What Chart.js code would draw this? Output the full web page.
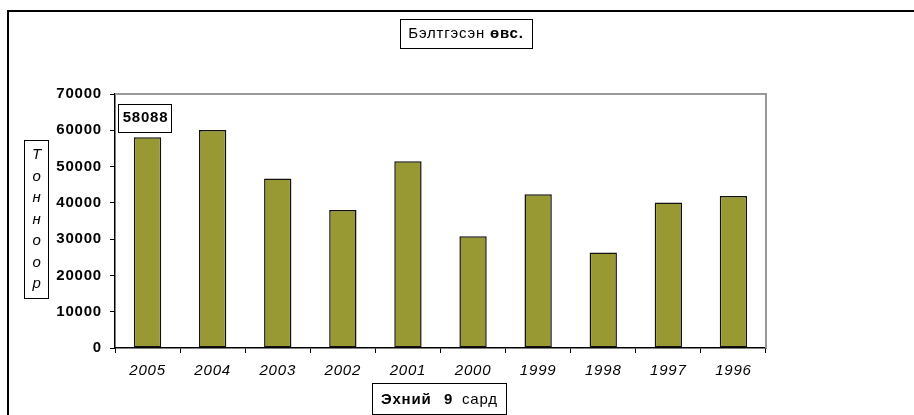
<!DOCTYPE html>
<html>
<head>
<meta charset="utf-8">
<script src="https://cdn.jsdelivr.net/npm/chart.js@4"></script>
<style>
  html, body { margin: 0; padding: 0; background: #fff; }
  #wrap { width: 914px; height: 415px; position: relative; }
</style>
</head>
<body>
<div id="wrap"><canvas id="graph01" width="914" height="415"></canvas></div>
<script>
// данные
const years = ['2005', '2004', '2003', '2002', '2001', '2000', '1999', '1998', '1997', '1996'];
const tonnes = [58088, 60100, 46700, 38000, 51500, 30800, 42400, 26300, 40100, 41900];
const yTicks = [0, 10000, 20000, 30000, 40000, 50000, 60000, 70000];
const titleText = 'Бэлтгэсэн ';
const titleBold = 'өвс.';
const yTitleChars = ['Т', 'о', 'н', 'н', 'о', 'о', 'р'];
const xTitleParts = ['Эхний', '9', 'сард'];

const FONT = '"Liberation Sans", Arial, sans-serif';

// рамки, заголовки, подпись значения
const boxes = {
    id: 'boxes',
    beforeDraw(chart) {
        const c = chart.ctx;
        c.save();
        c.fillStyle = '#fff';
        c.fillRect(0, 0, chart.width, chart.height);
        // внешняя рамка
        c.strokeStyle = '#000';
        c.lineWidth = 2;
        c.beginPath();
        c.moveTo(8, 415);
        c.lineTo(8, 11);
        c.lineTo(914, 11);
        c.stroke();
        c.restore();
        // шире шрифт, как в оригинале
        c.letterSpacing = '0.8px';
    },
    afterDraw(chart) {
        const c = chart.ctx;
        const a = chart.chartArea;
        c.save();
        c.letterSpacing = '0.8px';
        // серая рамка области построения
        c.strokeStyle = '#999';
        c.lineWidth = 2;
        c.beginPath();
        c.moveTo(a.left, a.top);
        c.lineTo(a.right, a.top);
        c.lineTo(a.right, a.bottom);
        c.stroke();

        c.lineWidth = 1;
        c.strokeStyle = '#000';
        c.fillStyle = '#000';
        c.textBaseline = 'middle';

        // заголовок
        c.strokeRect(400.5, 19.5, 132, 29);
        c.font = '15px ' + FONT;
        c.textAlign = 'left';
        const w1 = c.measureText(titleText).width;
        c.font = 'bold 15px ' + FONT;
        const w2 = c.measureText(titleBold).width;
        let x = 466 - (w1 + w2) / 2;
        c.font = '15px ' + FONT;
        c.fillText(titleText, x, 34);
        c.font = 'bold 15px ' + FONT;
        c.fillText(titleBold, x + w1, 34);

        // подпись оси Y
        c.strokeRect(24.5, 140.5, 24, 158);
        c.font = 'italic 15px ' + FONT;
        c.textAlign = 'center';
        yTitleChars.forEach((ch, i) => c.fillText(ch, 37, 155 + i * 21.5));

        // подпись оси X
        c.strokeRect(372.5, 383.5, 134, 31);
        c.textAlign = 'left';
        c.font = 'bold 15px ' + FONT;
        c.fillText(xTitleParts[0], 381, 400);
        c.fillText(xTitleParts[1], 444, 400);
        c.font = '15px ' + FONT;
        c.fillText(xTitleParts[2], 462, 400);

        // подпись значения первого столбца
        const bar = chart.getDatasetMeta(0).data[0];
        c.font = 'bold 15px ' + FONT;
        const label = String(tonnes[0]);
        c.fillStyle = '#fff';
        c.fillRect(118, bar.y - 33, 53, 28);
        c.strokeRect(118.5, Math.round(bar.y - 33) + 0.5, 53, 28);
        c.fillStyle = '#000';
        c.textAlign = 'center';
        c.fillText(label, 145.5, bar.y - 19);
        c.restore();
    }
};

const ctx = document.getElementById('graph01').getContext('2d');

const myChart = new Chart(ctx, {
    type: 'bar',
    data: {
        labels: years,
        datasets: [{
            label: 'Бэлтгэсэн өвс',
            data: tonnes,
            backgroundColor: '#999933',
            borderColor: '#111',
            borderWidth: 1.5,
            borderSkipped: false,
            categoryPercentage: 1,
            barPercentage: 0.42
        }]
    },
    options: {
        responsive: false,
        animation: false,
        events: [],
        layout: { padding: { left: 0, right: 148, top: 94, bottom: 0 } },
        plugins: {
            legend: { display: false },
            tooltip: { enabled: false }
        },
        scales: {
            x: {
                afterFit: s => { s.height = 67; },
                grid: { display: true, drawOnChartArea: false, offset: true, tickLength: 5, color: '#000', lineWidth: 1 },
                border: { display: true, color: '#000', width: 1.5 },
                ticks: { color: '#000', font: { family: FONT, size: 15, style: 'italic' }, padding: 9, maxRotation: 0 }
            },
            y: {
                min: 0,
                max: 70000,
                afterFit: s => { s.width = 115; },
                afterBuildTicks: s => { s.ticks = yTicks.map(v => ({ value: v })); },
                grid: { display: true, drawOnChartArea: false, tickLength: 5, color: '#000', lineWidth: 1 },
                border: { display: true, color: '#000', width: 1.5 },
                ticks: { color: '#000', font: { family: FONT, size: 15, weight: 'bold' }, padding: 8, callback: v => String(v) }
            }
        }
    },
    plugins: [boxes]
});
</script>
</body>
</html>
